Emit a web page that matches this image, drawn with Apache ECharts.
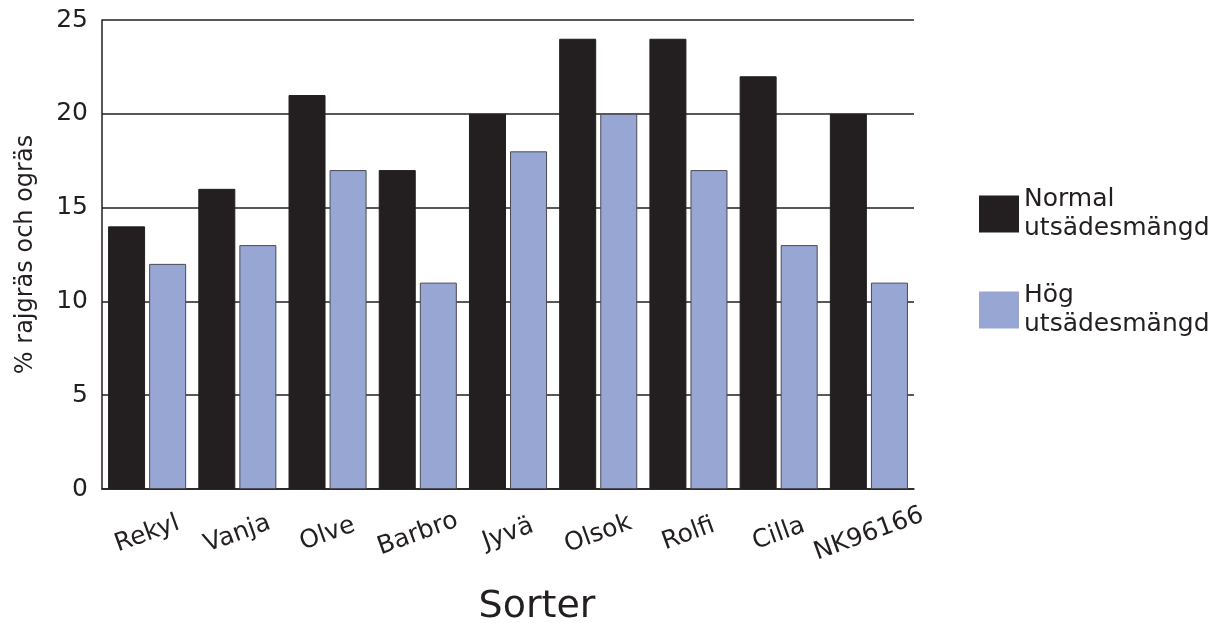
<!DOCTYPE html>
<html>
<head>
<meta charset="utf-8">
<script src="https://cdn.jsdelivr.net/npm/echarts@6/dist/echarts.min.js"></script>
<style>html,body{margin:0;padding:0;background:#fff}#c{width:1218px;height:623px}</style>
</head>
<body>
<div id="c"></div>
<script>
var categories = ['Rekyl','Vanja','Olve','Barbro','Jyvä','Olsok','Rolfi','Cilla','NK96166'];
var normal = [14,16,21,17,20,24,24,22,20];
var hog = [12,13,17,11,18,20,17,13,11];
var seriesNames = ['Normal utsädesmängd','Hög utsädesmängd'];
var legendLabels = {'Normal utsädesmängd':'Normal\nutsädesmängd','Hög utsädesmängd':'Hög\nutsädesmängd'};
var yTicks = [0,5,10,15,20,25];

var ink = '#231f20';
var font = 'DejaVu Sans';
var chart = echarts.init(document.getElementById('c'));
chart.setOption({
  animation:false,
  textStyle:{fontFamily:font,color:ink},
  grid:{left:102,right:304,top:20,bottom:134},
  legend:{
    orient:'vertical',left:974,top:180,itemWidth:40,itemHeight:37,itemGap:38,
    icon:'rect',
    itemStyle:{borderWidth:0},
    textStyle:{fontFamily:font,fontSize:25,lineHeight:29,color:ink},
    formatter:function(n){return legendLabels[n];},
    data:seriesNames
  },
  xAxis:{
    type:'category',data:categories,
    axisLine:{lineStyle:{color:ink,width:1.5}},
    axisTick:{inside:true,length:10,lineStyle:{color:ink,width:1.5}},
    axisLabel:{rotate:20,align:'center',verticalAlign:'middle',margin:45,fontSize:25,color:ink,fontFamily:font,interval:0},
    splitLine:{show:false}
  },
  yAxis:{
    type:'value',min:yTicks[0],max:yTicks[yTicks.length-1],interval:5,
    name:'% rajgräs och ogräs',nameLocation:'middle',nameGap:64,
    nameTextStyle:{fontSize:24,color:ink,fontFamily:font},
    axisLine:{show:true,lineStyle:{color:ink,width:1.5}},
    axisTick:{show:false},
    axisLabel:{fontSize:25,color:ink,margin:14,fontFamily:font},
    splitLine:{lineStyle:{color:ink,width:1.5}}
  },
  graphic:[{type:'text',x:537,y:607,style:{text:'Sorter',fontSize:38,fontFamily:font,fill:ink,textAlign:'center',textVerticalAlign:'middle'}}],
  series:[
    {name:seriesNames[0],type:'bar',data:normal,barWidth:37,barGap:'11%',
     itemStyle:{color:ink,borderColor:ink,borderWidth:1}},
    {name:seriesNames[1],type:'bar',data:hog,barWidth:37,barGap:'11%',
     itemStyle:{color:'#98a6d4',borderColor:'#4a4a55',borderWidth:1}}
  ]
});
</script>
</body>
</html>
